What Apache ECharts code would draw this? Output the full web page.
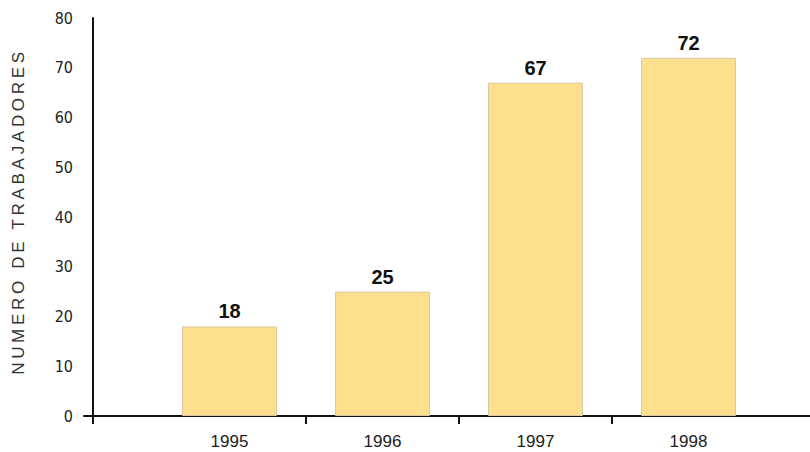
<!DOCTYPE html>
<html>
<head>
<meta charset="utf-8">
<script src="https://cdn.jsdelivr.net/npm/echarts@6/dist/echarts.min.js"></script>
<style>
html,body{margin:0;padding:0;background:#fff;}
#chart{width:810px;height:452px;}
</style>
</head>
<body>
<div id="chart"></div>
<script>
const categories = ['1995', '1996', '1997', '1998'];
const trabajadores = [18, 25, 67, 72];
const yTickValues = [0, 10, 20, 30, 40, 50, 60, 70, 80];
const yTitle = 'NUMERO DE TRABAJADORES';

const chart = echarts.init(document.getElementById('chart'), null, {renderer: 'svg'});
// axis frame measured in category widths (1995 occupies [0,1])
const frameMin = -0.451, frameMax = 4.294, yAxisAt = -0.392;

chart.setOption({
  animation: false,
  backgroundColor: '#ffffff',
  grid: [
    {left: 153, right: 45, top: 18, bottom: 36, outerBoundsMode: 'none', containLabel: false},
    {left: 84, right: 0, top: 18, bottom: 36, outerBoundsMode: 'none', containLabel: false}
  ],
  xAxis: [
    {
      type: 'category', gridIndex: 0, data: categories,
      axisLine: {show: false}, axisTick: {show: false},
      axisLabel: {color: '#222', fontFamily: 'Liberation Sans, Arial, sans-serif', fontSize: 17, margin: 17}
    },
    {
      type: 'value', gridIndex: 1, min: frameMin, max: frameMax,
      axisLine: {show: true, onZero: false, lineStyle: {color: '#111', width: 2}},
      axisTick: {show: true, inside: false, length: 8, lineStyle: {color: '#111', width: 2},
                 customValues: [yAxisAt, 1, 2, 3]},
      axisLabel: {show: false},
      splitLine: {show: false}
    }
  ],
  yAxis: [
    {
      type: 'value', gridIndex: 0, min: 0, max: 80, interval: 10,
      show: false, splitLine: {show: false}
    },
    {
      type: 'value', gridIndex: 1, min: 0, max: 80, interval: 10, offset: -9,
      name: yTitle, nameLocation: 'middle', nameRotate: 90, nameGap: 66,
      nameTextStyle: {color: '#333', fontFamily: 'Liberation Sans, Arial, sans-serif', fontSize: 17, padding: [0, 0, 0, 11]},
      axisLine: {show: true, onZero: false, lineStyle: {color: '#111', width: 2}},
      axisTick: {show: false},
      axisLabel: {color: '#222', fontFamily: 'Liberation Sans Narrow, DejaVu Sans Condensed, sans-serif',
                  fontSize: 16, margin: 20, customValues: yTickValues},
      splitLine: {show: false}
    }
  ],
  series: [{
    type: 'bar', xAxisIndex: 0, yAxisIndex: 0,
    data: trabajadores,
    barWidth: '62%',
    itemStyle: {color: '#FDDF8E', borderColor: '#d8c79f', borderWidth: 1},
    label: {show: true, position: 'top', distance: 5, color: '#111',
            fontFamily: 'Liberation Sans, Arial, sans-serif', fontWeight: 'bold', fontSize: 20}
  }]
});

function spaceTitle() {
  document.querySelectorAll('#chart text').forEach(t => {
    if (t.textContent === yTitle) {
      t.style.letterSpacing = '3.7px';
    }
  });
}
spaceTitle();
chart.on('finished', spaceTitle);
</script>
</body>
</html>
